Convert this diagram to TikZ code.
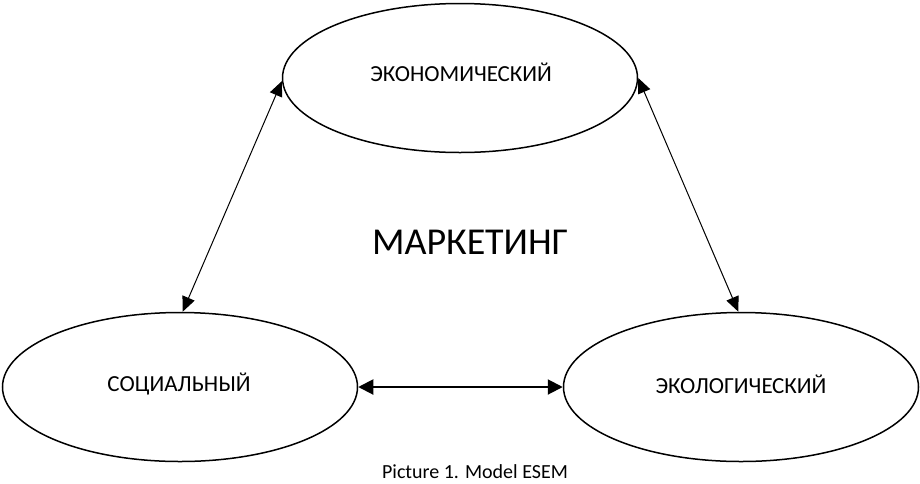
\documentclass[tikz,border=0pt]{standalone}
\usepackage{fontspec}
\setmainfont{Carlito}
\usetikzlibrary{shapes.geometric,arrows.meta}
\tikzset{
  oval/.style={ellipse,draw,line width=1.5pt,minimum width=355pt,minimum height=149pt,inner sep=0pt},
  lbl/.style={font=\fontsize{23}{26}\selectfont},
  link/.style={{Triangle[length=15pt,width=13pt]}-{Triangle[length=15pt,width=13pt]},line width=1pt},
  thicklink/.style={{Triangle[length=15pt,width=15pt]}-{Triangle[length=15pt,width=15pt]},line width=2pt}
}
\begin{document}
\begin{tikzpicture}[x=1pt,y=-1pt]
\useasboundingbox (0,0) rectangle (920,483);
\node[oval] (eco) at (460,78) {};
\node[oval] (soc) at (180,387) {};
\node[oval] (ecl) at (741,387) {};
\node[lbl] (ecot) at (461,72) {ЭКОНОМИЧЕСКИЙ};
\node[lbl] (soct) at (179,384) {СОЦИАЛЬНЫЙ};
\node[lbl] (eclt) at (741,384) {ЭКОЛОГИЧЕСКИЙ};
\node[font=\fontsize{38}{42}\selectfont] (mkt) at (470,242) {МАРКЕТИНГ};
\node[font=\fontsize{20}{22}\selectfont,inner sep=0.5pt] (cap) at (475,472) {Picture 1. Model ESEM};
\draw[link] (eco.181) -- (soc.88);
\draw[link] (eco.0) -- (ecl.92);
\draw[thicklink] (soc.east) -- (ecl.west);
\end{tikzpicture}
\end{document}
